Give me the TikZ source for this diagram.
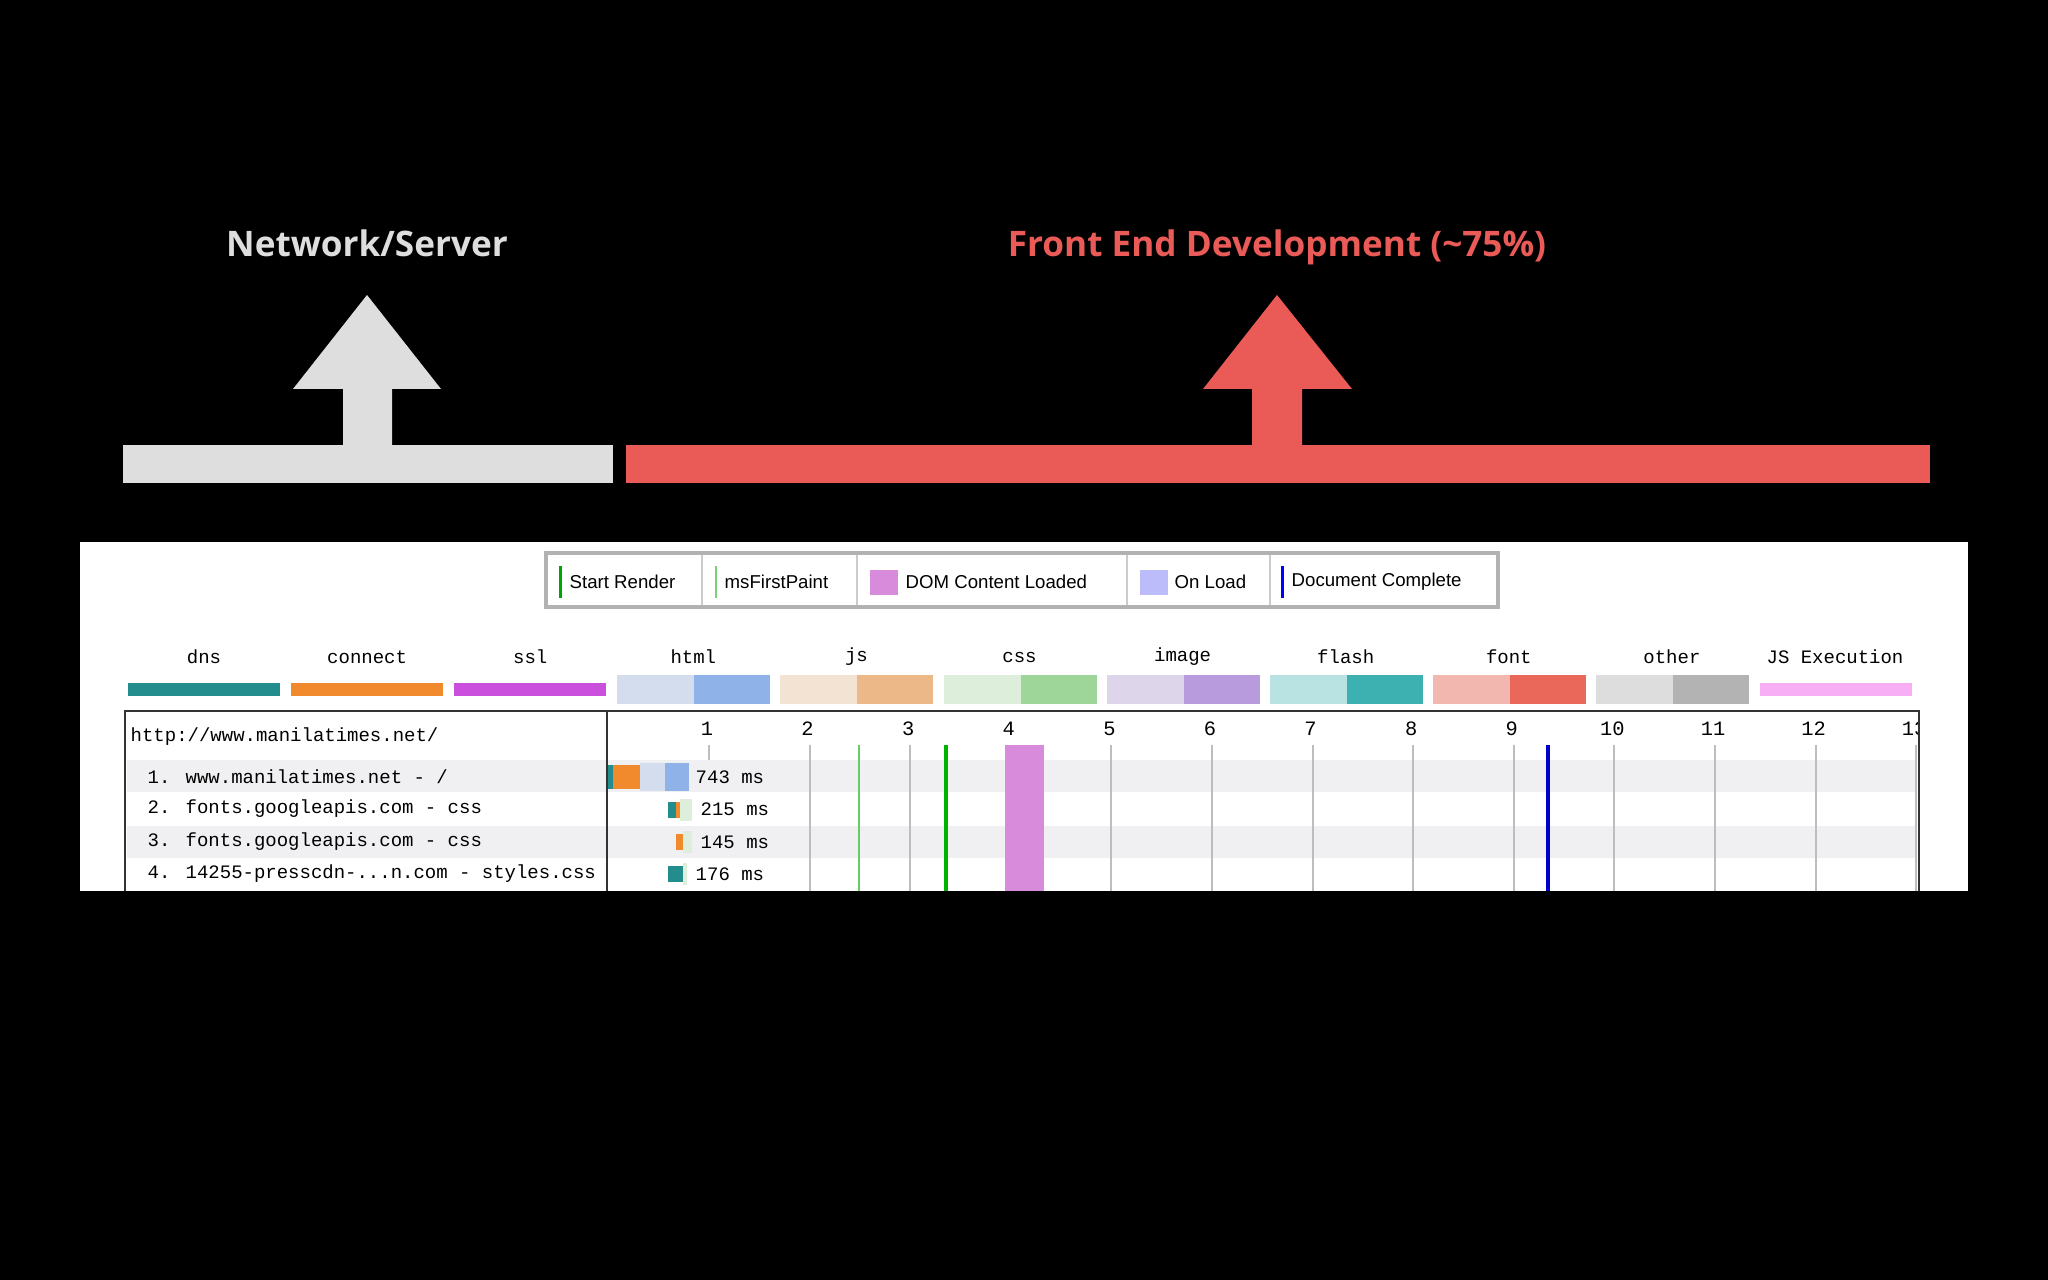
\documentclass[tikz,border=0pt]{standalone}
\usepackage{fontspec}
\setmainfont{Liberation Sans}
\newfontfamily\monof{Liberation Mono}
\newfontfamily\titlef{Open Sans}
\definecolor{redc}{HTML}{EA5B58}
\definecolor{greyc}{HTML}{DEDEDE}
\definecolor{rowg}{HTML}{F0EFF2}
\definecolor{gridc}{HTML}{BDBDBD}
\tikzset{
 hx/.code={\definecolor{tmpc}{HTML}{#1}\pgfkeysalso{fill=tmpc}},
 ttl/.style={font=\titlef\bfseries\fontsize{10}{12}\selectfont, anchor=base},
 mono/.style={font=\monof\fontsize{5.4}{6}\selectfont, inner sep=0pt},
 leg/.style={font=\fontsize{5.3}{6}\selectfont, inner sep=0pt, anchor=west},
}
\begin{document}
\begin{tikzpicture}[x=0.01cm,y=-0.01cm]
\fill[black] (0,0) rectangle (2048,1280);
\useasboundingbox (0,0) rectangle (2048,1280);
% titles
\node[ttl, text=greyc] (t1) at (367,257) {Network/Server};
\node[ttl, text=redc] (t2) at (1277,257) {Front End Development (\textasciitilde75\%)};
% bars and arrows
\fill[greyc] (123,445) rectangle (613,483);
\fill[greyc] (367,295) -- (441,389) -- (392,389) -- (392,446) -- (343,446) -- (343,389) -- (293,389) -- cycle;
\fill[redc] (626,445) rectangle (1930,483);
\fill[redc] (1277,295) -- (1352,389) -- (1302,389) -- (1302,446) -- (1252,446) -- (1252,389) -- (1203,389) -- cycle;
% panel
\fill[white] (80,542) rectangle (1968,891);
% legend box
\draw[gray!60, line width=1.2pt] (546,553) rectangle (1498,607);
\foreach \x in {702,857,1127,1270} \draw[gray!40, line width=0.8pt] (\x,555) -- (\x,605);
\fill[green!65!black] (559,566) rectangle (562,598);
\node[leg] (l1) at (569,582) {Start Render};
\fill[green!50!gray!70] (715,566) rectangle (717,598);
\node[leg] (l2) at (724,582) {msFirstPaint};
\fill[hx=D98BDB] (870,570) rectangle (898,595);
\node[leg] (l3) at (905,582) {DOM Content Loaded};
\fill[hx=BCBCFA] (1140,570) rectangle (1168,595);
\node[leg] (l4) at (1174,582) {On Load};
\fill[blue] (1281,566) rectangle (1284,598);
\node[leg] (l5) at (1291,582) {Document Complete};
% category legend
\foreach \n/\i in {dns/0,connect/1,ssl/2,html/3,js/4,css/5,image/6,flash/7,font/8,other/9,JS Execution/10}
  \node[mono] (c\i) at ({128+163.1*\i+76},657) {\n};
\fill[hx=238D8D] (128,683) rectangle (280,696);
\fill[hx=F08A2C] (291,683) rectangle (443,696);
\fill[hx=CB4FDD] (454,683) rectangle (606,696);
\foreach \i/\a/\b in {3/D4DDEE/8FB3E8,4/F3E3D3/EDB887,5/DDEEDB/9ED69A,6/DDD5EA/B89BDC,7/B9E2E2/3DB1B1,8/F2B8B0/E9685A,9/DDDDDD/B3B3B3}{
  \fill[hx=\a] ({128+163.1*\i},675) rectangle ({128+163.1*\i+77},704);
  \fill[hx=\b] ({128+163.1*\i+77},675) rectangle ({128+163.1*\i+153},704);
}
\fill[hx=F8AEF5] (1760,683) rectangle (1912,696);
% table rows
\fill[rowg] (127,760) rectangle (1917,792);
\fill[rowg] (127,826) rectangle (1917,858);
% grid
\draw[gridc, line width=0.6pt] (709,745) -- (709,760);
\foreach \i in {2,...,13} \draw[gridc, line width=0.6pt] ({709+100.6*(\i-1)},745) -- ({709+100.6*(\i-1)},891);
\begin{scope}
\clip (607,711) rectangle (1919,891);
\foreach \i in {1,...,13} \node[mono, font=\monof\fontsize{5.8}{6}\selectfont] (k\i) at ({707+100.6*(\i-1)},729) {\i};
\end{scope}
\fill[hx=D98BDB] (1005,745) rectangle (1044,891);
\draw[green!50!gray!80, line width=0.8pt] (859,745) -- (859,891);
\draw[green!70!black, line width=0.9pt] (946,745) -- (946,891);
\draw[blue!80!black, line width=1.2pt] (1548,745) -- (1548,891);
% table frame
\draw[black!80, line width=0.7pt] (125,891) -- (125,711) -- (1919,711) -- (1919,891);
\draw[black!80, line width=0.7pt] (607,711) -- (607,891);
\node[mono, anchor=west] (url) at (130,737) {http://www.manilatimes.net/};
\node[mono, anchor=west] (r1) at (147,777) {1. www.manilatimes.net - /};
\node[mono, anchor=west] (r2) at (147,809) {2. fonts.googleapis.com - css};
\node[mono, anchor=west] (r3) at (147,842) {3. fonts.googleapis.com - css};
\node[mono, anchor=west] (r4) at (147,874) {4. 14255-presscdn-...n.com - styles.css};
% request bars
\fill[hx=238D8D] (608,765) rectangle (613,789);
\fill[hx=F08A2C] (613,765) rectangle (640,789);
\fill[hx=D4DDEE] (640,763) rectangle (665,791);
\fill[hx=8FB3E8] (665,763) rectangle (689,791);
\node[mono, anchor=west] (m1) at (695,777) {743 ms};
\fill[hx=238D8D] (668,802) rectangle (676,818);
\fill[hx=F08A2C] (676,802) rectangle (680,818);
\fill[hx=DDEEDB] (680,799) rectangle (692,821);
\node[mono, anchor=west] (m2) at (700,809) {215 ms};
\fill[hx=F08A2C] (676,834) rectangle (683,850);
\fill[hx=DDEEDB] (683,831) rectangle (692,853);
\node[mono, anchor=west] (m3) at (700,842) {145 ms};
\fill[hx=238D8D] (668,866) rectangle (683,882);
\fill[hx=DDEEDB] (683,863) rectangle (687,885);
\node[mono, anchor=west] (m4) at (695,874) {176 ms};
\end{tikzpicture}
\end{document}
